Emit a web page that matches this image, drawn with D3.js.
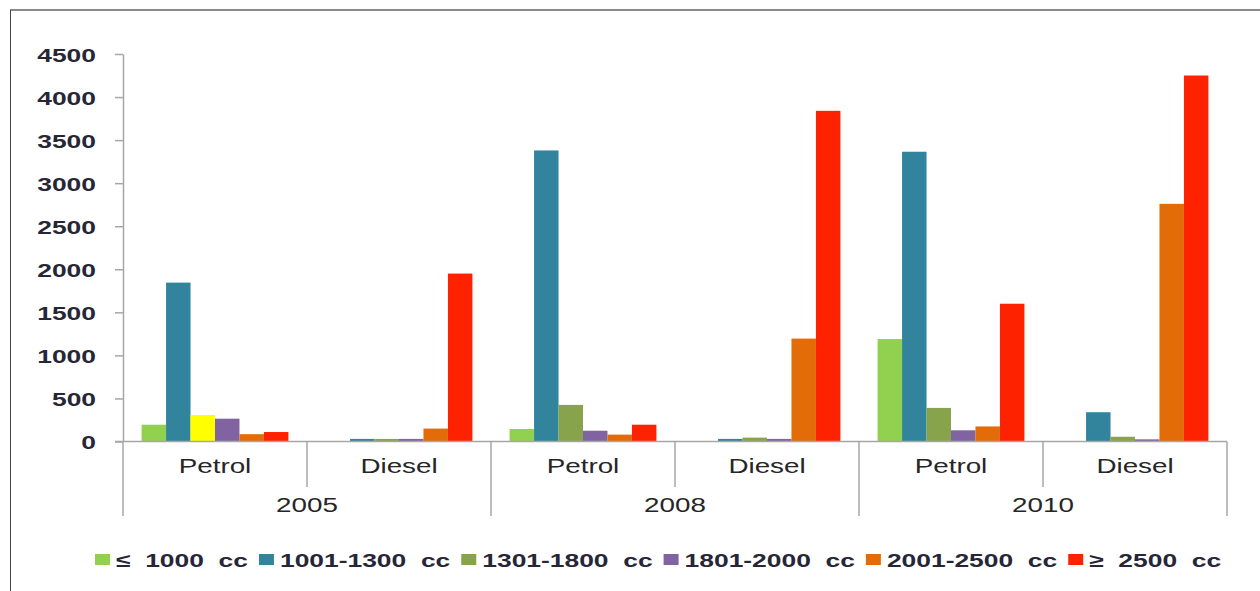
<!DOCTYPE html>
<html>
<head>
<meta charset="utf-8">
<script src="https://cdn.jsdelivr.net/npm/d3@7"></script>
<style>
  html, body { margin: 0; padding: 0; background: #fff; }
  svg { display: block; }
  text { font-family: "Liberation Sans", Arial, sans-serif; white-space: pre; }
</style>
</head>
<body>
<svg id="chart" width="1260" height="591"></svg>
<script>
// ---------- data ----------
const years = ["2005", "2008", "2010"];
const fuels = ["Petrol", "Diesel"];
const seriesNames = ["≤  1000  cc", "1001-1300  cc", "1301-1800  cc", "1801-2000  cc", "2001-2500  cc", "≥  2500  cc"];
// order of groups: 2005 Petrol, 2005 Diesel, 2008 Petrol, 2008 Diesel, 2010 Petrol, 2010 Diesel
const s_le1000   = [195, 0, 145, 0, 1190, 0];
const s_1001     = [1845, 30, 3380, 30, 3365, 340];
const s_1301     = [308, 30, 425, 45, 390, 55];
const s_1801     = [265, 30, 125, 30, 130, 25];
const s_2001     = [85, 150, 80, 1195, 175, 2760];
const s_ge2500   = [110, 1950, 195, 3840, 1600, 4250];
const yTicks = [0, 500, 1000, 1500, 2000, 2500, 3000, 3500, 4000, 4500];
const seriesColors = ["#92d050", "#31849b", "#87a34b", "#8064a2", "#e36c09", "#ff2200"];
const pointColorOverrides = [{ series: 2, group: 0, color: "#ffff00" }];

// ---------- setup ----------
const allSeries = [s_le1000, s_1001, s_1301, s_1801, s_2001, s_ge2500];
const groups = [];
years.forEach(y => fuels.forEach(f => groups.push(y + "|" + f)));

const SX = 1.39; // horizontal text stretch seen in the reference
const svg = d3.select("#chart");

const plot = { left: 123, right: 1227, top: 54, bottom: 441.5 };

const x0 = d3.scaleBand().domain(groups).range([plot.left, plot.right]).padding(0);
const x1 = d3.scaleBand().domain(d3.range(allSeries.length))
  .range([0, x0.bandwidth()]).paddingInner(0).paddingOuter(0.76);
const y = d3.scaleLinear().domain([0, 4500]).range([plot.bottom, plot.top]);

function stretchedText(g, x, yy, str, opts) {
  const t = g.append("text")
    .attr("transform", `translate(${x},${yy}) scale(${SX},1)`)
    .attr("text-anchor", opts.anchor || "middle")
    .attr("font-size", opts.size || 19)
    .attr("font-weight", opts.weight || "normal")
    .attr("fill", opts.fill || "#222")
    .text(str);
  return t;
}

// frame
svg.append("line").attr("x1", 10).attr("x2", 1260).attr("y1", 10).attr("y2", 10)
  .attr("stroke", "#8a8a8a").attr("stroke-width", 2);
svg.append("line").attr("x1", 10.5).attr("x2", 10.5).attr("y1", 10).attr("y2", 591)
  .attr("stroke", "#444").attr("stroke-width", 1);

// bars
const barData = [];
allSeries.forEach((vals, si) => {
  vals.forEach((v, gi) => {
    const ov = pointColorOverrides.find(o => o.series === si && o.group === gi);
    barData.push({ si, gi, v, color: ov ? ov.color : seriesColors[si] });
  });
});
svg.append("g").selectAll("rect").data(barData.filter(d => d.v > 0)).join("rect")
  .attr("x", d => x0(groups[d.gi]) + x1(d.si))
  .attr("width", x1.bandwidth())
  .attr("y", d => y(d.v))
  .attr("height", d => y(0) - y(d.v))
  .attr("fill", d => d.color);

// y axis
const yAxis = d3.axisLeft(y).tickValues(yTicks).tickSize(8).tickSizeOuter(0).tickPadding(0);
const yg = svg.append("g").attr("transform", `translate(${plot.left},0)`).call(yAxis);
yg.select(".domain").attr("stroke", "#a6a6a6").attr("stroke-width", 1.5);
yg.selectAll(".tick line").attr("stroke", "#a6a6a6").attr("stroke-width", 1.5);
yg.selectAll(".tick text").remove();
yg.selectAll(".tick").each(function(d) {
  stretchedText(d3.select(this), -27, 7, String(d), { anchor: "end", size: 19, weight: "bold", fill: "#262636" });
});

// x axis baseline
svg.append("line").attr("x1", plot.left - 8).attr("x2", plot.right)
  .attr("y1", plot.bottom).attr("y2", plot.bottom)
  .attr("stroke", "#a6a6a6").attr("stroke-width", 1.5);

// category separators and labels
const xg = svg.append("g");
groups.forEach((g, i) => {
  const gx = x0(g);
  const isYearStart = i % fuels.length === 0;
  xg.append("line").attr("x1", gx).attr("x2", gx)
    .attr("y1", plot.bottom).attr("y2", isYearStart ? 516 : 487)
    .attr("stroke", "#a6a6a6").attr("stroke-width", 1.5);
  stretchedText(xg, gx + x0.bandwidth() / 2, 473, g.split("|")[1], { size: 20, fill: "#262626" });
});
xg.append("line").attr("x1", plot.right).attr("x2", plot.right)
  .attr("y1", plot.bottom).attr("y2", 516)
  .attr("stroke", "#a6a6a6").attr("stroke-width", 1.5);
years.forEach((yr, i) => {
  const a = x0(groups[i * fuels.length]);
  const b = x0(groups[i * fuels.length + fuels.length - 1]) + x0.bandwidth();
  stretchedText(xg, (a + b) / 2, 512, yr, { size: 20, fill: "#262626" });
});

// legend
const lg = svg.append("g");
let lx = 95;
const ly = 560;
seriesNames.forEach((name, i) => {
  lg.append("rect").attr("x", lx).attr("y", ly - 6).attr("width", 15).attr("height", 11)
    .attr("fill", seriesColors[i]);
  const t = stretchedText(lg, lx + 21, ly + 7, name, { anchor: "start", size: 19, weight: "bold", fill: "#262636" });
  const w = t.node().getComputedTextLength() * SX;
  lx += 21 + w + 11;
});
</script>
</body>
</html>
